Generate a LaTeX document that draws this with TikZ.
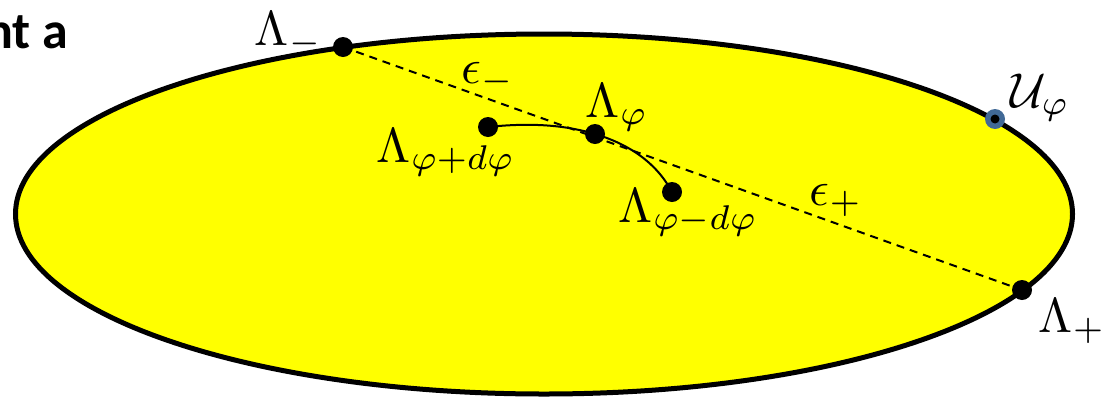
\documentclass[tikz,border=0pt]{standalone}
\usepackage[no-math]{fontspec}
\newfontfamily\carlito{Carlito}
\usetikzlibrary{shapes.geometric}
\definecolor{ringblue}{RGB}{65,105,150}
\definecolor{fillyellow}{RGB}{255,255,0}
\tikzset{
  lbl/.style={scale=4.9, inner sep=0pt, anchor=base west},
  dot/.style={circle, fill=black, inner sep=0pt, minimum size=20pt},
  chord/.style={dashed, dash pattern=on 8pt off 6pt, line width=2pt},
  pathline/.style={line width=2pt},
}
\begin{document}
\begin{tikzpicture}[x=1pt,y=-1pt]
\useasboundingbox (0,0) rectangle (1115,397);
\begin{scope}
\clip (0,0) rectangle (1115,397);
\node[font=\carlito\bfseries\fontsize{52}{58}\selectfont, inner sep=0pt, anchor=base west] (title) at (-15,48) {nt a};
\node[ellipse, draw, fill=fillyellow, line width=5pt, inner sep=0pt, minimum width=1057pt, minimum height=360pt] (E) at (544,214) {};
\end{scope}
% points
\coordinate (cm) at (343,47);
\coordinate (cp) at (1022,290);
\draw[chord] (cm) -- (cp);
\node[dot] (lm) at (cm) {};
\node[dot] (lp) at (cp) {};
\node[dot] (lfp) at (488,127) {};
\node[dot] (lf) at (595,134) {};
\node[dot] (lfm) at (672,192) {};
\draw[pathline] (lfp.center) .. controls (535,122) and (568,126) .. (lf.center)
  .. controls (625,143) and (655,160) .. (lfm.center);
% U marker
\node[circle, fill=ringblue, inner sep=0pt, minimum size=20pt] (U) at (995,119) {};
\node[circle, fill=black, inner sep=0pt, minimum size=9pt] (Uc) at (U.center) {};
% labels
\node[lbl] (tlm) at (254,45) {$\Lambda_-$};
\node[lbl] (tem) at (461,83) {$\epsilon_-$};
\node[lbl] (tlf) at (585,117) {$\Lambda_\varphi$};
\node[lbl] (tlfp) at (376,162) {$\Lambda_{\varphi+d\varphi}$};
\node[lbl] (tlfm) at (618,222) {$\Lambda_{\varphi-d\varphi}$};
\node[lbl] (tep) at (809,205) {$\epsilon_+$};
\node[lbl] (tlp) at (1038,332) {$\Lambda_+$};
\node[lbl] (tU) at (1010,107) {$\mathcal{U}_\varphi$};
\end{tikzpicture}
\end{document}
